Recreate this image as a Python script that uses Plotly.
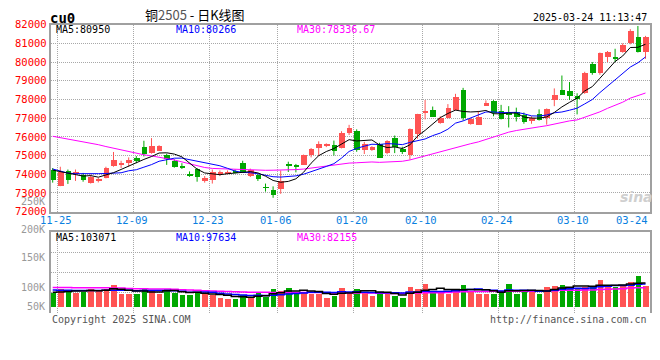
import plotly.graph_objects as go
import numpy as np
import pandas as pd

# ---------------- data ----------------
dates = ["2024-11-25","2024-11-26","2024-11-27","2024-11-28","2024-11-29",
         "2024-12-02","2024-12-03","2024-12-04","2024-12-05","2024-12-06",
         "2024-12-09","2024-12-10","2024-12-11","2024-12-12","2024-12-13",
         "2024-12-16","2024-12-17","2024-12-18","2024-12-19","2024-12-20",
         "2024-12-23","2024-12-24","2024-12-25","2024-12-26","2024-12-27",
         "2024-12-30","2024-12-31","2025-01-02","2025-01-03",
         "2025-01-06","2025-01-07","2025-01-08","2025-01-09","2025-01-10",
         "2025-01-13","2025-01-14","2025-01-15","2025-01-16","2025-01-17",
         "2025-01-20","2025-01-21","2025-01-22","2025-01-23","2025-01-24",
         "2025-01-27","2025-02-05","2025-02-06","2025-02-07",
         "2025-02-10","2025-02-11","2025-02-12","2025-02-13","2025-02-14",
         "2025-02-17","2025-02-18","2025-02-19","2025-02-20","2025-02-21",
         "2025-02-24","2025-02-25","2025-02-26","2025-02-27","2025-02-28",
         "2025-03-03","2025-03-04","2025-03-05","2025-03-06","2025-03-07",
         "2025-03-10","2025-03-11","2025-03-12","2025-03-13","2025-03-14",
         "2025-03-17","2025-03-18","2025-03-19","2025-03-20","2025-03-21",
         "2025-03-24"]

opens = [74240,73380,74200,74080,73980, 73550,73680,73810,74470,74520,
         74620,74900,75500,75150,75280, 75070,74710,74470,74030,74280,
         73670,73700,74050,74070,74180, 74640,73930,73980,73330,
         73170,73210,74550,74500,74530, 75020,75410,75530,75600,75420,
         76250,76330,75300,75300,75640, 75130,75940,75390,75040,
         76160,77300,77440,76760,77000, 77470,78500,76710,76670,77680,
         77950,77390,77300,77340,77170, 76860,77220,77000,77970,78530,
         78470,78190,78360,79900,79440, 80290,80290,80560,81020,81380,
         80560]
highs = [74330,74400,74250,74250,74070, 73980,73810,74400,75190,74720,
         74900,74970,75790,75930,75550, 75100,74800,74590,74150,74330,
         73900,74250,74200,74200,74250, 74720,74300,74050,73500,
         73350,74200,74670,74550,75050, 75400,75760,75650,75800,76300,
         76640,76400,75730,75500,75680, 75820,76070,75470,76450,
         77230,77970,77620,77100,77750, 78300,78620,77000,77390,77950,
         77960,77710,77640,77560,77300, 77100,77470,77520,78590,79280,
         78930,78330,79480,80000,80510, 80590,80710,81000,81760,81930,
         81400]
lows = [73550,73360,73480,73640,73600, 73500,73560,73780,74400,74330,
        74410,74590,74950,75100,75250, 74500,74350,74280,73860,73600,
        73550,73500,73900,74000,74050, 74070,73850,73640,73070,
        72740,72950,74120,74100,74500, 74900,74970,75450,75000,75380,
        76100,75200,75080,75250,74870, 75070,75130,75080,74780,
        75900,76930,77060,76700,76980, 77400,76880,76650,76650,77650,
        77100,76930,76500,76820,76700, 76700,76870,76650,77640,78240,
        77970,77200,78300,79320,79320, 80000,80000,80500,80950,80510,
        80170]
closes = [73730,74150,73730,74160,73730, 73860,73730,74330,74760,74590,
          74790,74720,75100,75530,75530, 74850,74380,74360,73900,73860,
          73840,74160,74110,74160,74070, 74120,74240,73760,73290,
          72920,73640,74470,74450,75020, 75360,75650,75590,75250,76250,
          76500,75300,75640,75470,74900, 75820,75470,75210,76450,
          77230,77360,77100,77000,77550, 78140,77000,76960,77100,77850,
          77270,76960,77170,77100,76790, 77000,76930,77510,78280,78280,
          78220,78050,79440,79440,80510, 80530,80220,80930,81700,80560,
          81350]
volumes = [63000,80000,66000,63000,66000, 77000,74000,77000,94000,56000,
           56000,56000,80000,69000,59000, 80000,63000,52000,52000,63000,
           58000,52000,38000,35000,35000, 52000,46000,60000,46000,
           77000,72000,83000,63000,63000, 59000,59000,39000,49000,84000,
           63000,80000,67000,49000,59000, 59000,49000,38000,88000,
           80000,101000,63000,69000,59000, 80000,97000,69000,59000,59000,
           59000,66000,101000,59000,66000, 66000,59000,88000,93000,97000,
           84000,84000,88000,88000,118000, 86000,87000,92000,109000,134000,
           92000]

# moving-average values before enough history is on the chart
ma5_head = [74220, 74150, 74080, 74000]
ma10_head = [74280, 74150, 74060, 74030, 74020, 74020, 74030, 74040, 74060]
ma30_head = [76030, 75960, 75880, 75800, 75730, 75660, 75580, 75480, 75390, 75300,
             75200, 75100, 75040, 74980, 74920, 74850, 74760, 74660, 74560, 74450,
             74360, 74310, 74290, 74270, 74250, 74240, 74230, 74220, 74210]
vma5_head = [63000, 64000, 66000, 68000]
vma10_head = [72000, 71000, 71000, 70000, 70000, 70000, 70000, 71000, 71000]
vma30_head = [83000, 83000, 83000, 82000, 82000, 82000, 82000, 82000, 81000, 81000,
              79000, 78000, 78000, 77000, 77000, 77000, 76000, 73000, 72000, 71000,
              69000, 68000, 67000, 66000, 65000, 64000, 63000, 62000, 62000]

date_labels = ["11-25", "12-09", "12-23", "01-06", "01-20", "02-10", "02-24", "03-10", "03-24"]
label_dates = ["2024-11-25", "2024-12-09", "2024-12-23", "2025-01-06", "2025-01-20",
               "2025-02-10", "2025-02-24", "2025-03-10", "2025-03-24"]
price_ticks = [72000, 73000, 74000, 75000, 76000, 77000, 78000, 79000, 80000, 81000, 82000]
vol_tick_labels = ["250K", "200K", "150K", "100K", "50K"]

title_text = "cu0"
subtitle = ["铜", "2505", " - 日K线图"]
timestamp = "2025-03-24 11:13:47"
price_ma_text = ["MA5:80950", "MA10:80266", "MA30:78336.67"]
vol_ma_text = ["MA5:103071", "MA10:97634", "MA30:82155"]
footer_left = "Copyright 2025 SINA.COM"
footer_right = "http://finance.sina.com.cn"

# ---------------- derived ----------------
n = len(dates)
idx = np.arange(n)
o = np.array(opens, float); c = np.array(closes, float)
h = np.array(highs, float); l = np.array(lows, float)
v = np.array(volumes, float)
up = c >= o


def moving(vals, k, head):
    s = pd.Series(vals).rolling(k).mean().to_numpy()
    s[:k - 1] = head
    return s


ma5 = moving(c, 5, ma5_head)
ma10 = moving(c, 10, ma10_head)
ma30 = moving(c, 30, ma30_head)
vma5 = moving(v, 5, vma5_head)
vma10 = moving(v, 10, vma10_head)
vma30 = moving(v, 30, vma30_head)

RED = "#ff5353"
GREEN = "#00a800"
colors = np.where(up, RED, GREEN)

# positions are written in screen pixels (page margin removed below)
W, H = 660, 360
def px(x): return x / W
def py(y): return 1 - y / H

X0, X1 = 50.5, 650.0
STEP = 7.6
C0 = 52.7
xr = [(X0 - C0) / STEP, (X1 - C0) / STEP]

fig = go.Figure()

# wicks
for mask, col in ((up, RED), (~up, GREEN)):
    xs, ys = [], []
    for i in idx[mask]:
        xs += [i, i, None]
        ys += [l[i], h[i], None]
    fig.add_trace(go.Scatter(x=xs, y=ys, mode="lines", line=dict(color=col, width=1),
                             hoverinfo="skip", showlegend=False, xaxis="x", yaxis="y"))

# bodies
body_base = np.minimum(o, c)
body_h = np.maximum(np.abs(c - o), 45)
fig.add_trace(go.Bar(x=idx, y=body_h, base=body_base, width=0.74,
                     marker=dict(color=colors, line=dict(width=0)),
                     hovertext=dates, showlegend=False, xaxis="x", yaxis="y"))

for series, col in ((ma30, "#ff00ff"), (ma10, "#0000ff"), (ma5, "#000000")):
    fig.add_trace(go.Scatter(x=idx, y=series, mode="lines", line=dict(color=col, width=1),
                             hoverinfo="skip", showlegend=False, xaxis="x", yaxis="y"))

# volume
fig.add_trace(go.Bar(x=idx, y=v, width=0.74, marker=dict(color=colors, line=dict(width=0)),
                     hovertext=dates, showlegend=False, xaxis="x3", yaxis="y3"))
for series, col in ((vma30, "#ff00ff"), (vma10, "#0000ff"), (vma5, "#000000")):
    fig.add_trace(go.Scatter(x=idx, y=series, mode="lines", line=dict(color=col, width=1.5, shape="hvh"),
                             hoverinfo="skip", showlegend=False, xaxis="x3", yaxis="y3"))

pos = {d: i for i, d in enumerate(dates)}
label_idx = [pos[d] for d in label_dates]
grid_x = [i + 0.6 for i in label_idx[:-1]]

GRID = "#a8a8a8"
FRAME = "#a0a0a0"
MONO = "DejaVu Sans Mono"

# volume scale: 0 at pixel 311, 4200 per pixel
VPP = 4200
vtop = (311 - 233.3) * VPP
vbot = -(318 - 311) * VPP

fig.update_layout(
    width=W, height=H, margin=dict(l=0, r=0, t=0, b=0),
    paper_bgcolor="white", plot_bgcolor="white", showlegend=False, bargap=0,
    hovermode=False,
    xaxis=dict(domain=[px(X0), px(X1)], range=xr, anchor="y", tickvals=grid_x,
               showticklabels=False, ticks="", showgrid=True, gridcolor=GRID, griddash="1px,1px",
               showline=True, mirror=True, linecolor=FRAME, linewidth=1.5, zeroline=False),
    yaxis=dict(domain=[py(212.7), py(19.3)], range=[72000, 82000], anchor="x",
               tickvals=price_ticks, ticktext=[str(t) for t in price_ticks],
               tickfont=dict(family=MONO, size=10.5, color="#ff0000"), ticks="",
               showgrid=True, gridcolor=GRID, griddash="1px,1px",
               showline=True, mirror=True, linecolor=FRAME, linewidth=1.5, zeroline=False),
    xaxis3=dict(domain=[px(X0), px(X1)], range=xr, anchor="y3", side="top", tickvals=grid_x,
                showticklabels=False, ticks="", showgrid=True, gridcolor=GRID, griddash="1px,1px",
                showline=True, mirror=False, linecolor=FRAME, linewidth=1.5, zeroline=False),
    yaxis3=dict(domain=[py(318), py(233.3)], range=[vbot, vtop], anchor="x3",
                tickvals=[(311 - yy) * VPP for yy in (254.7, 275.7, 296.7)],
                showticklabels=False, ticks="", showgrid=True, gridcolor=GRID, griddash="1px,1px",
                showline=True, mirror=True, linecolor=FRAME, linewidth=1.5, zeroline=False),
)

ann = []
def text(x, y, s, color="#000", size=10, family=MONO, xanchor="left", **kw):
    ann.append(dict(x=px(x), y=py(y), xref="paper", yref="paper", text=s, showarrow=False,
                    xanchor=xanchor, yanchor="middle", font=dict(family=family, size=size, color=color), **kw))

# header
text(48, 12, "<b>" + title_text + "</b>", size=14)
ann.append(dict(x=px(195), y=py(9), xref="paper", yref="paper", showarrow=False, xanchor="center",
                yanchor="middle",
                text=subtitle[0] + "<span style='color:#555'>" + subtitle[1] + "</span>" + subtitle[2],
                font=dict(family="Noto Sans CJK SC", size=13, color="#000")))
text(649, 12, timestamp, xanchor="right")

# MA legends
for s, x, col in zip(price_ma_text, (54, 174, 295), ("#000000", "#0000ff", "#ff00ff")):
    text(x, 24.5, s, color=col)
for s, x, col in zip(vol_ma_text, (54, 174, 295), ("#000000", "#0000ff", "#ff00ff")):
    text(x, 239.5, s, color=col)

# date labels
for lab, i in zip(date_labels[:-1], label_idx[:-1]):
    ann.append(dict(x=i + 0.4, y=py(221), xref="x", yref="paper", text=lab, showarrow=False,
                    xanchor="center", yanchor="middle", font=dict(family=MONO, size=10.5, color="#0a80e0")))
text(650, 221, date_labels[-1], color="#0a80e0", size=10.5, xanchor="right")

# volume axis labels (as drawn on the original)
for lab, yy in zip(vol_tick_labels, (202, 231, 260.5, 291, 311)):
    text(47, yy, lab, color="#999999", size=10, xanchor="right")

# footer
text(50, 324, footer_left, color="#555555")
text(649, 324, footer_right, color="#555555", xanchor="right")

# watermark
text(636, 198, "<b><i>sina</i></b>", color="#cfcfcf", size=14, family="DejaVu Sans", xanchor="center")

fig.update_layout(annotations=ann)
fig.write_html("out.html", config={"displayModeBar": False},
               post_script="document.body.style.margin='0';")
